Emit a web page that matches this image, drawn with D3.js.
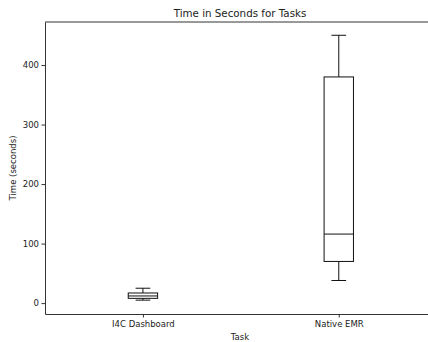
<!DOCTYPE html>
<html lang="en">
<head>
    <meta charset="UTF-8">
    <title>Time in Seconds for Tasks</title>
    <script src="https://d3js.org/d3.v7.min.js"></script>
    <style>
        body { margin: 0; background: #fff; }
        svg { display: block; }
        text { font-family: "DejaVu Sans", sans-serif; }
        .tick text { font-size: 8.5px; fill: #222; }
        .tick line { stroke: #333; }
        .domain { stroke: #333; }
    </style>
</head>
<body>
    <script>
        // data
        const tasks = ["I4C Dashboard", "Native EMR"];
        const whiskerLow = [5, 38];
        const q1 = [8, 70];
        const median = [12, 116];
        const q3 = [17, 380];
        const whiskerHigh = [25, 450];
        const yTicks = [0, 100, 200, 300, 400];

        const width = 428;
        const height = 342;
        const margin = { top: 22, bottom: 28, left: 45 };
        const plotBottom = height - margin.bottom;
        const font = "'DejaVu Sans', sans-serif";

        const svg = d3.select("body").append("svg")
            .attr("width", width)
            .attr("height", height);

        // positions 1..n like matplotlib, axes span 0.5..n+0.5 (right side is cut off)
        const x = d3.scaleLinear()
            .domain([0.5, tasks.length + 0.5])
            .range([margin.left, 436.7]);

        const y = d3.scaleLinear()
            .domain([-18.3, 472.3])
            .range([plotBottom, margin.top]);

        const boxW = 0.15;

        // axes frame
        svg.append("g")
            .attr("transform", `translate(0,${plotBottom})`)
            .call(d3.axisBottom(x).tickValues(tasks.map((t, i) => i + 1))
                .tickFormat((d, i) => tasks[i]).tickSize(3.5).tickSizeOuter(0).tickPadding(3))
            .attr("font-family", font);

        svg.append("g")
            .attr("transform", `translate(${margin.left},0)`)
            .call(d3.axisLeft(y).tickValues(yTicks).tickSize(3.5).tickSizeOuter(0).tickPadding(2.5))
            .attr("font-family", font);

        svg.append("line")
            .attr("x1", margin.left).attr("x2", width)
            .attr("y1", margin.top).attr("y2", margin.top)
            .attr("stroke", "#333");

        // boxes
        const boxes = svg.append("g").attr("stroke", "#111").attr("fill", "none");
        tasks.forEach((t, i) => {
            const p = i + 1;
            boxes.append("rect")
                .attr("x", x(p - boxW / 2))
                .attr("y", y(q3[i]))
                .attr("width", x(p + boxW / 2) - x(p - boxW / 2))
                .attr("height", y(q1[i]) - y(q3[i]));
            boxes.append("line")
                .attr("x1", x(p - boxW / 2)).attr("x2", x(p + boxW / 2))
                .attr("y1", y(median[i])).attr("y2", y(median[i]));
            // whiskers
            boxes.append("line")
                .attr("x1", x(p)).attr("x2", x(p))
                .attr("y1", y(q3[i])).attr("y2", y(whiskerHigh[i]));
            boxes.append("line")
                .attr("x1", x(p)).attr("x2", x(p))
                .attr("y1", y(q1[i])).attr("y2", y(whiskerLow[i]));
            // caps
            [whiskerHigh[i], whiskerLow[i]].forEach(v => {
                boxes.append("line")
                    .attr("x1", x(p - boxW / 4)).attr("x2", x(p + boxW / 4))
                    .attr("y1", y(v)).attr("y2", y(v));
            });
        });

        // labels
        svg.append("text")
            .attr("x", 240).attr("y", 16.5)
            .attr("text-anchor", "middle")
            .attr("font-size", 10.3).attr("fill", "#222")
            .text("Time in Seconds for Tasks");

        svg.append("text")
            .attr("x", 240).attr("y", 340)
            .attr("text-anchor", "middle")
            .attr("font-size", 8.5).attr("fill", "#222")
            .text("Task");

        svg.append("text")
            .attr("transform", `translate(16,${(margin.top + plotBottom) / 2}) rotate(-90)`)
            .attr("text-anchor", "middle")
            .attr("font-size", 8.5).attr("fill", "#222")
            .text("Time (seconds)");
    </script>
</body>
</html>
